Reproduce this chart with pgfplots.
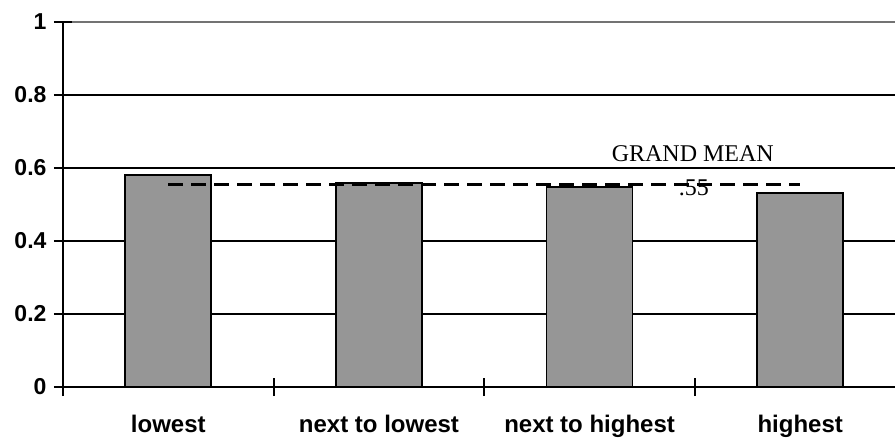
\documentclass[border=0pt]{standalone}
\usepackage{pgfplots}
\pgfplotsset{compat=1.18}
\usepackage{fontspec}
\setmainfont{Liberation Sans}
\newfontfamily\serifgm{Liberation Serif}
\definecolor{barfill}{RGB}{150,150,150}
\begin{document}
\begin{tikzpicture}
\begin{axis}[
  scale only axis,
  width=832pt, height=365pt,
  xmin=-0.5, xmax=3.45, ymin=0, ymax=1,
  axis lines=left,
  axis line style={-, line width=2pt, black},
  /pgf/number format/assume math mode=true,
  xtick={-0.5,0.5,1.5,2.5},
  xticklabels={},
  extra x ticks={0,1,2,3},
  extra x tick labels={lowest, next to lowest, next to highest, highest},
  extra x tick style={tick style={draw=none}, xticklabel style={font=\bfseries\fontsize{24}{28}\selectfont, inner sep=0pt, yshift=-19pt}},
  ytick={0,0.2,0.4,0.6,0.8},
  extra y ticks={1},
  extra y tick style={grid style={black!55, line width=2pt}},
  ymajorgrids,
  grid style={black, line width=1.9pt},
  tick align=center,
  major tick length=18pt,
  tick style={black, line width=2pt},
  yticklabel style={font=\bfseries\fontsize{23}{27}\selectfont, xshift=-4pt},
  clip=false,
]
\addplot[ybar, bar width=86pt, fill=barfill, draw=black, line width=1.8pt]
  coordinates {(0,0.581) (1,0.558) (2,0.547) (3,0.532)};
\addplot[black, line width=2.3pt, dash pattern=on 15pt off 8pt]
  coordinates {(0,0.555) (3,0.555)};
\node[font=\serifgm\fontsize{24}{28}\selectfont, anchor=base, inner sep=0pt] at (axis cs:2.49,0.619) {GRAND MEAN};
\node[font=\serifgm\fontsize{24}{28}\selectfont, anchor=base, inner sep=0pt] at (axis cs:2.495,0.526) {.55};
\end{axis}
\pgfresetboundingbox
\path ([shift={(-63pt,-52pt)}]current axis.south west) rectangle ([shift={(0pt,22pt)}]current axis.north east);
\end{tikzpicture}
\end{document}
